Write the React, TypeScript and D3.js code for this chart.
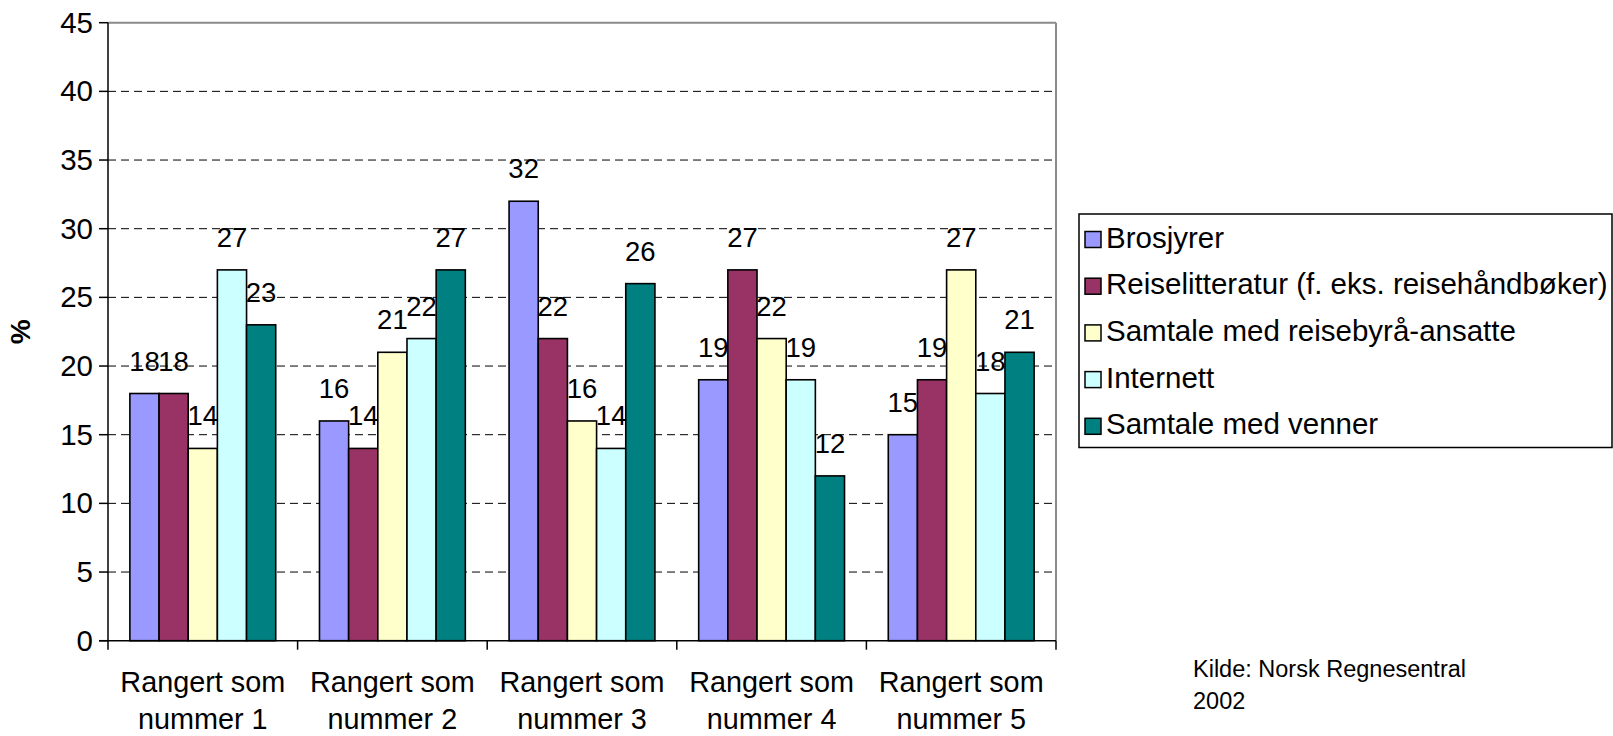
import React from "react";
import * as d3 from "d3";

const categories: string[][] = [
  ["Rangert som", "nummer 1"],
  ["Rangert som", "nummer 2"],
  ["Rangert som", "nummer 3"],
  ["Rangert som", "nummer 4"],
  ["Rangert som", "nummer 5"],
];
const seriesNames = [
  "Brosjyrer",
  "Reiselitteratur (f. eks. reisehåndbøker)",
  "Samtale med reisebyrå-ansatte",
  "Internett",
  "Samtale med venner",
];
const brosjyrer = [18, 16, 32, 19, 15];
const reiselitteratur = [18, 14, 22, 27, 19];
const samtaleReisebyraa = [14, 21, 16, 22, 27];
const internett = [27, 22, 14, 19, 18];
const samtaleVenner = [23, 27, 26, 12, 21];
const seriesValues = [brosjyrer, reiselitteratur, samtaleReisebyraa, internett, samtaleVenner];
const colors = ["#9999FF", "#993366", "#FFFFCC", "#CCFFFF", "#008080"];
const yTicks = [0, 5, 10, 15, 20, 25, 30, 35, 40, 45];
const yTitle = "%";
const sourceLines = ["Kilde: Norsk Regnesentral", "2002"];

const W = 1613;
const H = 736;
const left = 108;
const right = 1056;
const top = 22.7;
const bottom = 640.7;
const FONT = "'Liberation Sans', Arial, sans-serif";

export default function App() {
  const x0 = d3
    .scaleBand<number>()
    .domain(categories.map((_, i) => i))
    .range([left, right])
    .paddingInner(0)
    .paddingOuter(0);
  const x1 = d3
    .scaleBand<number>()
    .domain(seriesNames.map((_, i) => i))
    .range([0, x0.bandwidth()])
    .paddingInner(0)
    .paddingOuter(0.75);
  const y = d3.scaleLinear().domain([0, 45]).range([bottom, top]);

  const legendX = 1079;
  const legendY = 214;
  const rowH = 46.7;

  return (
    <svg
      width={W}
      height={H}
      style={{ position: "absolute", left: 0, top: 0, display: "block", background: "#fff" }}
      fontFamily={FONT}
    >
      <rect x={0} y={0} width={W} height={H} fill="#fff" />
      {yTicks
        .filter((t) => t > 0 && t < 45)
        .map((t) => (
          <line
            key={"g" + t}
            x1={left}
            x2={right}
            y1={y(t)}
            y2={y(t)}
            stroke="#000"
            strokeWidth={1}
            strokeDasharray="8,5"
          />
        ))}
      <line x1={left} x2={right} y1={y(45)} y2={y(45)} stroke="#8a8a8a" strokeWidth={2} />
      <line x1={right} x2={right} y1={y(45)} y2={bottom} stroke="#8a8a8a" strokeWidth={2} />
      {categories.map((_, ci) =>
        seriesNames.map((_, si) => {
          const v = seriesValues[si][ci];
          const bx = (x0(ci) as number) + (x1(si) as number);
          return (
            <rect
              key={`b${ci}-${si}`}
              x={bx}
              y={y(v)}
              width={x1.bandwidth()}
              height={bottom - y(v)}
              fill={colors[si]}
              stroke="#000"
              strokeWidth={1.6}
            />
          );
        })
      )}
      {categories.map((_, ci) =>
        seriesNames.map((_, si) => {
          const v = seriesValues[si][ci];
          const cx = (x0(ci) as number) + (x1(si) as number) + x1.bandwidth() / 2;
          return (
            <text
              key={`l${ci}-${si}`}
              x={cx}
              y={y(v) - 23}
              textAnchor="middle"
              fontSize={27.5}
              fill="#000"
            >
              {v}
            </text>
          );
        })
      )}
      <line x1={left} x2={left} y1={top} y2={bottom} stroke="#000" strokeWidth={1.5} />
      <line x1={left - 9} x2={right} y1={bottom} y2={bottom} stroke="#000" strokeWidth={1.5} />
      {yTicks.map((t) => (
        <g key={"yt" + t}>
          <line x1={left - 9} x2={left} y1={y(t)} y2={y(t)} stroke="#000" strokeWidth={1.5} />
          <text x={93} y={y(t) + 10} textAnchor="end" fontSize={29.5} fill="#000">
            {t}
          </text>
        </g>
      ))}
      {categories.map((_, i) => (
        <line
          key={"xt" + i}
          x1={x0(i) as number}
          x2={x0(i) as number}
          y1={bottom}
          y2={bottom + 9}
          stroke="#000"
          strokeWidth={1.5}
        />
      ))}
      <line x1={right} x2={right} y1={bottom} y2={bottom + 9} stroke="#000" strokeWidth={1.5} />
      {categories.map((lines, i) => (
        <text
          key={"xl" + i}
          x={(x0(i) as number) + x0.bandwidth() / 2}
          textAnchor="middle"
          fontSize={28.8}
          fill="#000"
        >
          <tspan x={(x0(i) as number) + x0.bandwidth() / 2} y={692}>
            {lines[0]}
          </tspan>
          <tspan x={(x0(i) as number) + x0.bandwidth() / 2} y={729}>
            {lines[1]}
          </tspan>
        </text>
      ))}
      <text
        transform={`translate(30, ${(top + bottom) / 2}) rotate(-90)`}
        textAnchor="middle"
        fontSize={28}
        fontWeight="bold"
        fill="#000"
      >
        {yTitle}
      </text>
      <rect
        x={legendX}
        y={legendY}
        width={W - legendX - 1}
        height={rowH * 5}
        fill="#fff"
        stroke="#000"
        strokeWidth={1.5}
      />
      {seriesNames.map((name, i) => {
        const base = legendY + 33.5 + i * rowH;
        return (
          <g key={"lg" + i}>
            <rect
              x={1085}
              y={base - 16}
              width={16}
              height={16}
              fill={colors[i]}
              stroke="#000"
              strokeWidth={1.5}
            />
            <text x={1106} y={base} fontSize={29.5} fill="#000">
              {name}
            </text>
          </g>
        );
      })}
      <text fontSize={23.5} fill="#000">
        <tspan x={1193} y={677}>
          {sourceLines[0]}
        </tspan>
        <tspan x={1193} y={709}>
          {sourceLines[1]}
        </tspan>
      </text>
    </svg>
  );
}
